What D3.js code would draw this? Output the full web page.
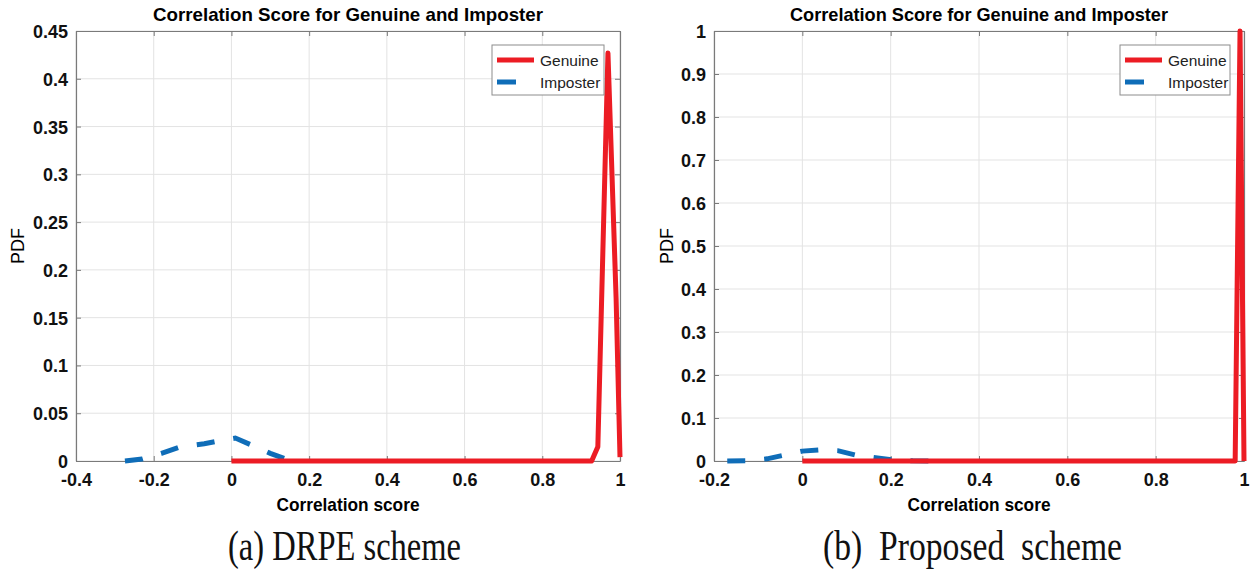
<!DOCTYPE html>
<html>
<head>
<meta charset="utf-8">
<script src="https://cdn.jsdelivr.net/npm/d3@7"></script>
<style>
  body { margin: 0; background: #fff; }
  svg { display: block; }
</style>
</head>
<body>
<svg id="chart" width="1254" height="574"></svg>
<script>
// Panel (a) DRPE scheme
var drpeGenuine = [[0, 0], [0.927, 0], [0.943, 0.015], [0.969, 0.427], [0.99, 0.17], [1.0, 0.004]];
var drpeImposter = [[-0.274, 0], [-0.23, 0.002], [-0.18, 0.008], [-0.13, 0.015], [-0.07, 0.018],
    [-0.02, 0.022], [0.01, 0.024], [0.05, 0.017], [0.1, 0.008], [0.14, 0.002], [0.17, 0]];
var drpeXTicks = [-0.4, -0.2, 0, 0.2, 0.4, 0.6, 0.8, 1];
var drpeYTicks = [0, 0.05, 0.1, 0.15, 0.2, 0.25, 0.3, 0.35, 0.4, 0.45];

// Panel (b) Proposed scheme
var propGenuine = [[0, 0], [0.98, 0], [0.991, 1.0], [1.0, 0]];
var propImposter = [[-0.17, 0], [-0.12, 0.001], [-0.08, 0.005], [-0.04, 0.014], [0, 0.023],
    [0.04, 0.026], [0.08, 0.024], [0.12, 0.014], [0.17, 0.007], [0.21, 0.002], [0.25, 0.0005], [0.29, 0]];
var propXTicks = [-0.2, 0, 0.2, 0.4, 0.6, 0.8, 1];
var propYTicks = [0, 0.1, 0.2, 0.3, 0.4, 0.5, 0.6, 0.7, 0.8, 0.9, 1];

var titleText = "Correlation Score for Genuine and Imposter";
var xLabelText = "Correlation score";
var yLabelText = "PDF";
var legendNames = ["Genuine", "Imposter"];
var captions = ["(a) DRPE scheme", "(b)  Proposed  scheme"];

var RED = "#ec1c24";
var BLUE = "#0f6db8";
var NARROW = "'Liberation Sans Narrow', 'Arial Narrow', 'Liberation Sans', Arial, sans-serif";

var svg = d3.select("#chart");

// Draw one MATLAB-style panel
function drawPanel(opt)
{
    var g = svg.append("g");
    var x = d3.scaleLinear().domain(opt.xDomain).range([opt.left, opt.right]);
    var y = d3.scaleLinear().domain(opt.yDomain).range([opt.bottom, opt.top]);

    // Grid lines
    g.append("g").selectAll("line").data(opt.xTicks).enter().append("line")
        .attr("x1", function(d) { return x(d); }).attr("x2", function(d) { return x(d); })
        .attr("y1", opt.top).attr("y2", opt.bottom)
        .attr("stroke", "#e3e3e3").attr("stroke-width", 1);
    g.append("g").selectAll("line").data(opt.yTicks).enter().append("line")
        .attr("x1", opt.left).attr("x2", opt.right)
        .attr("y1", function(d) { return y(d); }).attr("y2", function(d) { return y(d); })
        .attr("stroke", "#e3e3e3").attr("stroke-width", 1);

    // Axes (ticks drawn inward); plain hyphen for negatives like MATLAB
    var fmt = function(d) { return String(d); };
    var xAxis = g.append("g").attr("transform", "translate(0," + opt.bottom + ")")
        .call(d3.axisBottom(x).tickValues(opt.xTicks).tickSizeInner(-5).tickSizeOuter(0).tickFormat(fmt));
    var yAxis = g.append("g").attr("transform", "translate(" + opt.left + ",0)")
        .call(d3.axisLeft(y).tickValues(opt.yTicks).tickSizeInner(-5).tickSizeOuter(0).tickFormat(fmt));
    var xTop = g.append("g").attr("transform", "translate(0," + opt.top + ")")
        .call(d3.axisTop(x).tickValues(opt.xTicks).tickSizeInner(-5).tickSizeOuter(0).tickFormat(""));
    var yRight = g.append("g").attr("transform", "translate(" + opt.right + ",0)")
        .call(d3.axisRight(y).tickValues(opt.yTicks).tickSizeInner(-5).tickSizeOuter(0).tickFormat(""));

    [xAxis, yAxis, xTop, yRight].forEach(function(a) {
        a.select(".domain").attr("stroke", "#7a7a7a").attr("stroke-width", 1.2);
        a.selectAll(".tick line").attr("stroke", "#7a7a7a");
    });
    xAxis.selectAll(".tick text")
        .attr("y", 12).attr("dy", "0.71em")
        .attr("font-family", NARROW).attr("font-weight", "bold").attr("font-size", 18).attr("fill", "#111");
    yAxis.selectAll(".tick text")
        .attr("x", -8).attr("dy", "0.36em")
        .attr("font-family", NARROW).attr("font-weight", "bold").attr("font-size", 18).attr("fill", "#111");

    // Lines
    var line = d3.line().x(function(d) { return x(d[0]); }).y(function(d) { return y(d[1]); });
    g.append("path").datum(opt.imposter).attr("d", line)
        .attr("fill", "none").attr("stroke", BLUE).attr("stroke-width", 5)
        .attr("stroke-dasharray", "18,19");
    g.append("path").datum(opt.genuine).attr("d", line)
        .attr("fill", "none").attr("stroke", RED).attr("stroke-width", 5)
        .attr("stroke-linejoin", "round");

    // Title
    var cx = (opt.left + opt.right) / 2;
    g.append("text").attr("x", cx).attr("y", 21).attr("text-anchor", "middle")
        .attr("font-family", NARROW).attr("font-weight", "bold").attr("font-size", 19)
        .attr("textLength", opt.titleWidth).attr("lengthAdjust", "spacingAndGlyphs")
        .text(titleText);

    // Axis labels
    g.append("text").attr("x", cx).attr("y", 511).attr("text-anchor", "middle")
        .attr("font-family", NARROW).attr("font-weight", "bold").attr("font-size", 19)
        .attr("textLength", 143).attr("lengthAdjust", "spacingAndGlyphs")
        .text(xLabelText);
    g.append("text")
        .attr("transform", "translate(" + opt.yLabelX + ",246) rotate(-90)")
        .attr("text-anchor", "middle")
        .attr("font-family", "'Liberation Sans', Arial, sans-serif").attr("font-size", 18)
        .text(yLabelText);

    // Legend
    var lg = g.append("g").attr("transform", "translate(" + opt.legendX + ",45)");
    lg.append("rect").attr("width", opt.legendW).attr("height", 50)
        .attr("fill", "#fff").attr("stroke", "#8c8c8c").attr("stroke-width", 1);
    lg.append("line").attr("x1", 5).attr("x2", 42).attr("y1", 15).attr("y2", 15)
        .attr("stroke", RED).attr("stroke-width", 5);
    lg.append("line").attr("x1", 5).attr("x2", 24).attr("y1", 37).attr("y2", 37)
        .attr("stroke", BLUE).attr("stroke-width", 5);
    lg.selectAll("text").data(legendNames).enter().append("text")
        .attr("x", 48).attr("y", function(d, i) { return 21 + i * 22; })
        .attr("font-family", NARROW).attr("font-size", 15.5).attr("fill", "#222")
        .text(function(d) { return d; });

    // Caption
    g.append("text").attr("x", opt.capX).attr("y", 560)
        .style("white-space", "pre")
        .attr("font-family", "'Liberation Serif', 'Times New Roman', serif").attr("font-size", 42)
        .attr("textLength", opt.capW).attr("lengthAdjust", "spacingAndGlyphs")
        .attr("fill", "#111")
        .text(opt.caption);
}

drawPanel({
    left: 76, right: 620, top: 31, bottom: 461,
    xDomain: [-0.4, 1], yDomain: [0, 0.45],
    xTicks: drpeXTicks, yTicks: drpeYTicks,
    genuine: drpeGenuine, imposter: drpeImposter,
    titleWidth: 390, yLabelX: 24, legendX: 492, legendW: 112,
    caption: captions[0], capX: 228, capW: 233
});

drawPanel({
    left: 714, right: 1244, top: 31, bottom: 461,
    xDomain: [-0.2, 1], yDomain: [0, 1],
    xTicks: propXTicks, yTicks: propYTicks,
    genuine: propGenuine, imposter: propImposter,
    titleWidth: 378, yLabelX: 673, legendX: 1120, legendW: 110,
    caption: captions[1], capX: 823, capW: 299
});
</script>
</body>
</html>
